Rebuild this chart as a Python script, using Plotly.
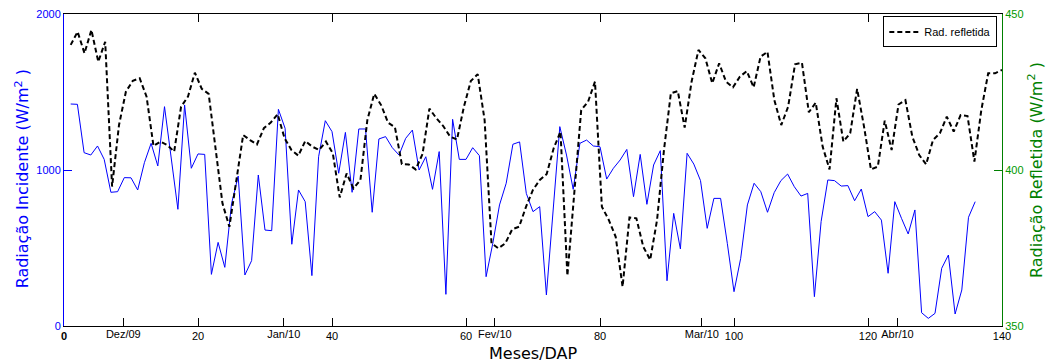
import numpy as np
import plotly.graph_objects as go

# Radiação incidente (W/m2), one value per DAP starting at 1
incid_vals = [1423, 1421, 1111, 1096, 1154, 1068, 857, 861, 951, 950,
              872, 1047, 1171, 1026, 1406, 1085, 748, 1417, 1011, 1103,
              1100, 331, 536, 376, 783, 961, 327, 419, 968, 615,
              611, 1389, 1267, 524, 872, 797, 323, 1085, 1316, 1246,
              979, 1241, 857, 1263, 1263, 729, 1199, 1214, 1143, 1096,
              1203, 1256, 1000, 1085, 876, 1118, 203, 1325, 1068, 1068,
              1143, 1092, 316, 530, 776, 915, 1165, 1180, 850, 733,
              765, 199, 744, 1278, 1096, 876, 1171, 1192, 1154, 1149,
              942, 1011, 1064, 1132, 829, 1100, 780, 1032, 1124, 290,
              722, 494, 1107, 1038, 932, 626, 818, 818, 530, 220,
              434, 776, 915, 861, 729, 855, 932, 974, 893, 833,
              850, 188, 669, 936, 932, 897, 900, 803, 878, 701,
              733, 679, 338, 797, 690, 590, 744, 85, 49, 81,
              370, 455, 77, 231, 697, 797]

# Radiação refletida (W/m2), spread over DAP 1..140
refl_vals = [440.1, 444.3, 437.4, 444.9, 434.7, 441.1, 394.7, 414.4, 425.1, 428.6,
             429.4, 423.5, 407.7, 409.1, 408.0, 405.9, 420.3, 423.5, 431.2, 426.0,
             424.4, 406.4, 389.3, 381.8, 396.8, 411.2, 409.6, 408.2, 413.4, 415.2,
             417.9, 410.2, 406.4, 404.6, 409.3, 407.5, 406.4, 409.1, 405.3, 391.2,
             398.9, 394.1, 396.8, 416.0, 424.4, 420.8, 415.2, 413.7, 401.9, 401.8,
             400.2, 405.1, 419.7, 416.6, 414.1, 410.7, 409.8, 420.3, 428.5, 430.7,
             416.0, 376.5, 374.9, 376.5, 381.0, 381.8, 388.2, 393.6, 396.8, 398.7,
             406.9, 412.3, 366.1, 392.7, 419.2, 421.9, 428.3, 388.2, 384.0, 378.6,
             362.6, 384.8, 384.5, 375.4, 371.2, 384.0, 406.4, 424.6, 425.3, 413.6,
             428.3, 438.5, 435.8, 427.8, 434.2, 428.3, 426.5, 429.9, 431.7, 426.5,
             436.3, 437.9, 422.4, 414.4, 420.3, 433.9, 434.4, 418.5, 421.6, 407.5,
             400.2, 423.0, 409.1, 411.8, 426.0, 413.9, 400.2, 401.1, 415.8, 406.4,
             421.0, 422.4, 410.7, 404.8, 401.8, 409.6, 411.8, 417.1, 412.3, 417.6,
             417.3, 402.7, 419.2, 431.0, 431.0, 432.1]

dap_ticks = [0, 20, 40, 60, 80, 100, 120, 140]
dap_labels = ["<b>0</b>", "20", "40", "60", "80", "100", "120", "140"]
month_pos = [8.85, 32.8, 64.3, 95.2, 124.4]
month_labels = ["Dez/09", "Jan/10", "Fev/10", "Mar/10", "Abr/10"]

incid_x = list(range(1, len(incid_vals) + 1))
refl_x = np.linspace(1, 140, len(refl_vals))

BLUE = "#0000FF"
GREEN = "#008000"
TICKFONT = "Arial, Liberation Sans, sans-serif"
TITLEFONT = "Comic Sans MS, DejaVu Sans, sans-serif"

fig = go.Figure()
fig.add_trace(go.Scatter(x=incid_x, y=incid_vals, mode="lines",
                         line=dict(color=BLUE, width=1),
                         showlegend=False, xaxis="x", yaxis="y"))
fig.add_trace(go.Scatter(x=refl_x, y=refl_vals, mode="lines",
                         name="Rad. refletida",
                         line=dict(color="black", width=2, dash="5px,3px"),
                         xaxis="x2", yaxis="y2"))

fig.update_layout(
    width=1046, height=363,
    margin=dict(l=64, r=44, t=14, b=37, autoexpand=False),
    paper_bgcolor="white", plot_bgcolor="white",
    xaxis=dict(range=[0, 140], tickvals=dap_ticks, ticktext=dap_labels,
               ticks="inside", ticklen=8, tickcolor="black",
               showline=True, linecolor="black", linewidth=1, mirror="ticks",
               showgrid=False, zeroline=False, automargin=False,
               tickfont=dict(family=TICKFONT, size=11, color="black")),
    xaxis2=dict(range=[0, 140], overlaying="x", anchor="y2", side="bottom",
                tickvals=month_pos, ticktext=month_labels,
                ticks="inside", ticklen=8, tickcolor="black",
                showline=False, showgrid=False, zeroline=False, automargin=False,
                tickfont=dict(family=TICKFONT, size=11, color="black")),
    yaxis=dict(range=[0, 2000], tickvals=[0, 1000, 2000],
               ticks="inside", ticklen=8, tickcolor=BLUE,
               showline=True, linecolor=BLUE, linewidth=1,
               showgrid=False, zeroline=False, automargin=False,
               tickfont=dict(family=TICKFONT, size=11, color=BLUE)),
    yaxis2=dict(range=[350, 450], tickvals=[350, 400, 450], overlaying="y",
                anchor="x2", side="right",
                ticks="inside", ticklen=8, tickcolor=GREEN,
                showline=True, linecolor=GREEN, linewidth=1,
                showgrid=False, zeroline=False, automargin=False,
                tickfont=dict(family=TICKFONT, size=11, color="#009900")),
    legend=dict(x=0.995, xanchor="right", y=0.992, yanchor="top",
                bgcolor="white", bordercolor="black", borderwidth=1,
                itemwidth=30,
                font=dict(family=TICKFONT, size=11, color="black")),
    annotations=[
        dict(text="Meses/DAP", xref="paper", yref="paper", x=0.5, y=0,
             xanchor="center", yanchor="middle", yshift=-27, showarrow=False,
             font=dict(family=TITLEFONT, size=16, color="black")),
        dict(text="Radiação Incidente (W/m<sup>2</sup> )", xref="paper", yref="paper",
             x=0, y=0.47, xanchor="center", yanchor="middle", xshift=-42,
             textangle=-90, showarrow=False,
             font=dict(family=TITLEFONT, size=16, color=BLUE)),
        dict(text="Radiação Refletida (W/m<sup>2</sup> )", xref="paper", yref="paper",
             x=1, y=0.5, xanchor="center", yanchor="middle", xshift=33,
             textangle=-90, showarrow=False,
             font=dict(family=TITLEFONT, size=16, color=GREEN)),
    ],
)

fig.write_html("out.html",
               config={"displayModeBar": False},
               post_script="document.body.style.margin='0';"
                           "document.body.style.overflow='hidden';")
